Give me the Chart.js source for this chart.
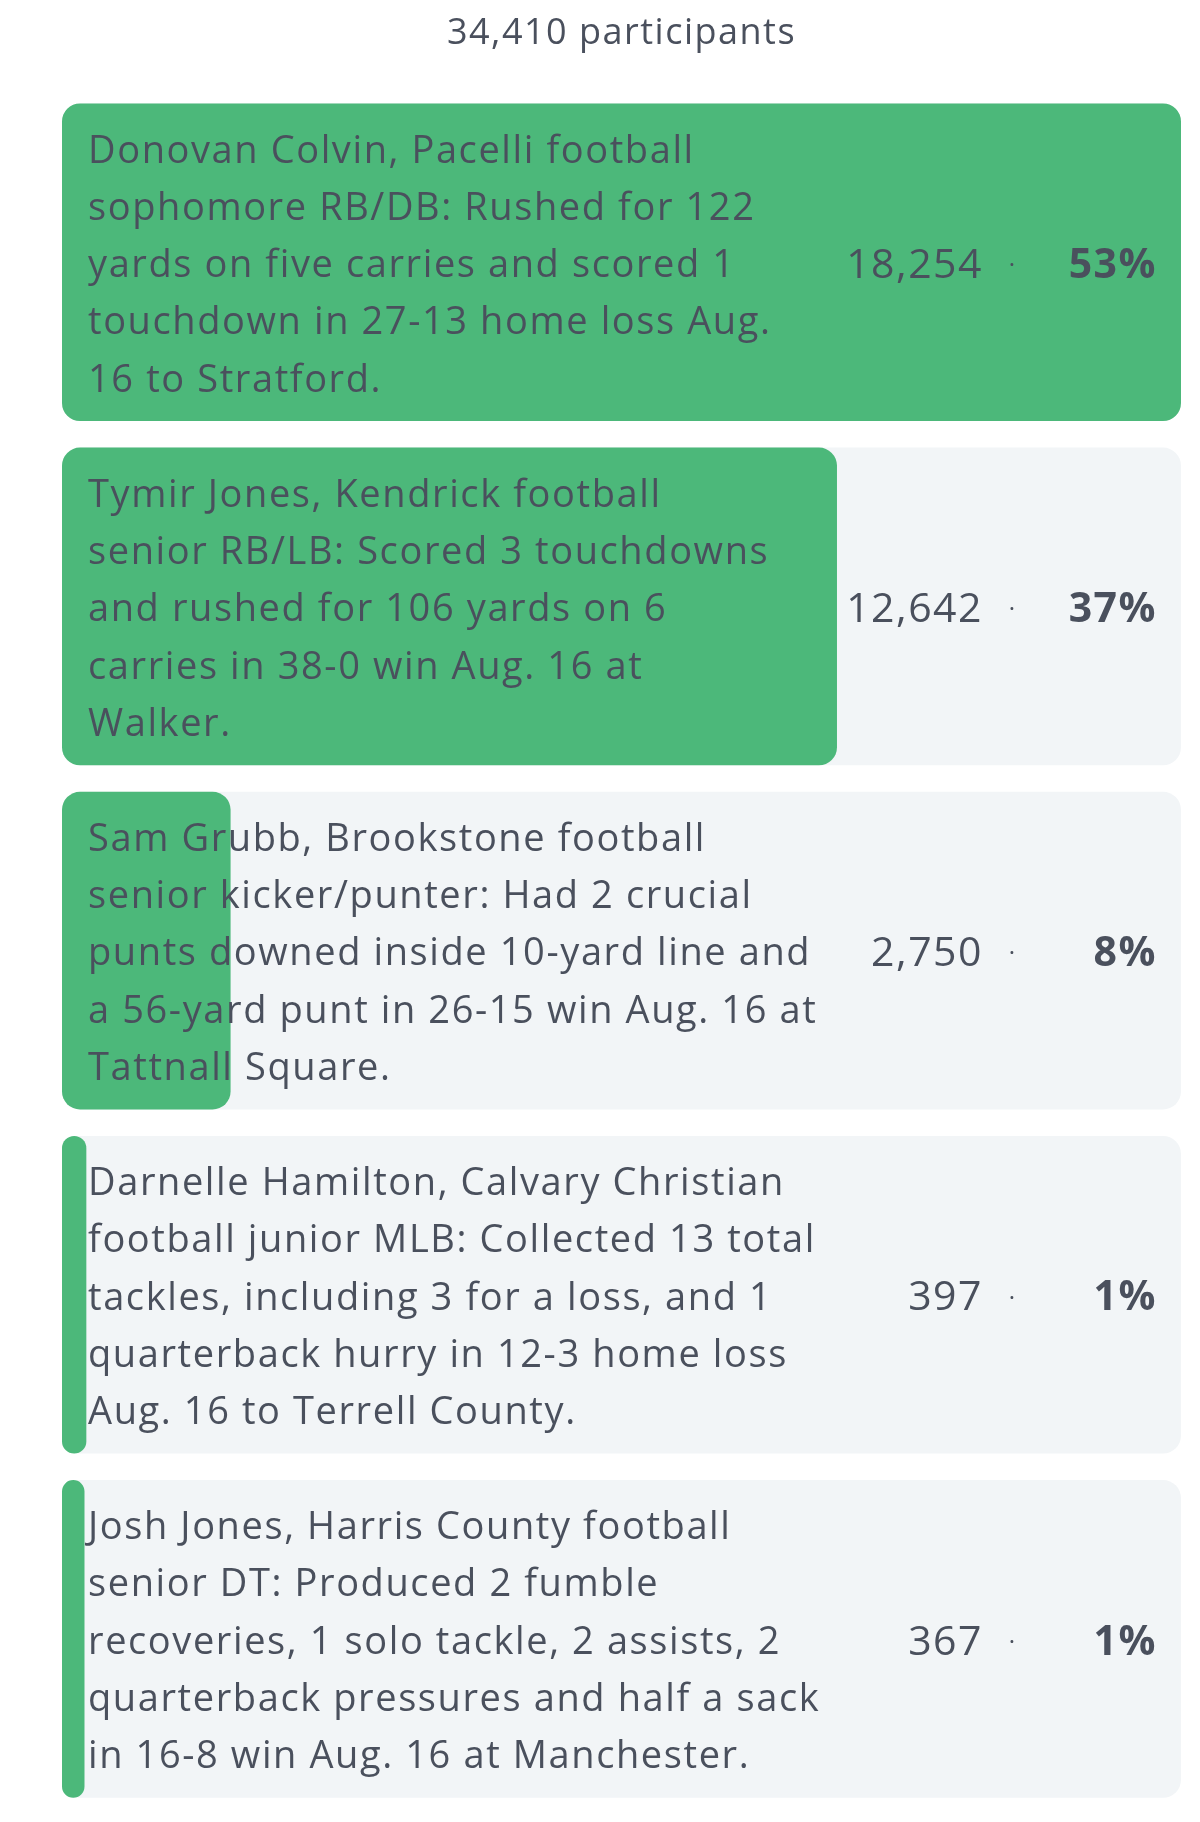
<!DOCTYPE html>
<html>
<head>
<meta charset="utf-8">
<script src="https://cdn.jsdelivr.net/npm/chart.js@4/dist/chart.umd.min.js"></script>
<style>
  html, body { margin: 0; padding: 0; background: #fff; }
  #wrap { width: 1200px; height: 1822px; }
</style>
</head>
<body>
<div id="wrap"><canvas id="poll"></canvas></div>
<script>
// poll options, one array of lines per bar
const options = [
  ['Donovan Colvin, Pacelli football', 'sophomore RB/DB: Rushed for 122', 'yards on five carries and scored 1', 'touchdown in 27-13 home loss Aug.', '16 to Stratford.'],
  ['Tymir Jones, Kendrick football', 'senior RB/LB: Scored 3 touchdowns', 'and rushed for 106 yards on 6', 'carries in 38-0 win Aug. 16 at', 'Walker.'],
  ['Sam Grubb, Brookstone football', 'senior kicker/punter: Had 2 crucial', 'punts downed inside 10-yard line and', 'a 56-yard punt in 26-15 win Aug. 16 at', 'Tattnall Square.'],
  ['Darnelle Hamilton, Calvary Christian', 'football junior MLB: Collected 13 total', 'tackles, including 3 for a loss, and 1', 'quarterback hurry in 12-3 home loss', 'Aug. 16 to Terrell County.'],
  ['Josh Jones, Harris County football', 'senior DT: Produced 2 fumble', 'recoveries, 1 solo tackle, 2 assists, 2', 'quarterback pressures and half a sack', 'in 16-8 win Aug. 16 at Manchester.']
];
const votes = [18254, 12642, 2750, 397, 367];

const total = votes.reduce((a, b) => a + b, 0);
const maxVote = Math.max(...votes);
const GREEN = '#4cb87a';
const TRACK = '#f2f5f7';
const INK = '#4a505d';
const FONT = '"Open Sans", Lato, sans-serif';

// the reference face is wide, so open the tracking a little
const tracking = {
  id: 'tracking',
  beforeDraw(chart) { chart.ctx.letterSpacing = '1.5px'; }
};

// labels, counts and percentages drawn on top of the bars
const pollText = {
  id: 'pollText',
  afterDatasetsDraw(chart) {
    const { ctx, chartArea, scales } = chart;
    const lineH = 57.3;
    ctx.save();
    ctx.fillStyle = INK;
    ctx.textBaseline = 'middle';
    options.forEach((lines, i) => {
      const cy = scales.y.getPixelForValue(i) + 4;
      ctx.letterSpacing = '1.6px';
      ctx.font = '38px ' + FONT;
      ctx.textAlign = 'left';
      const y0 = cy - (lines.length - 1) * lineH / 2;
      lines.forEach((ln, k) => ctx.fillText(ln, chartArea.left + 26, y0 + k * lineH));

      ctx.letterSpacing = '1.5px';
      ctx.font = '41px ' + FONT;
      ctx.textAlign = 'right';
      ctx.fillText(votes[i].toLocaleString('en-US'), chartArea.right - 198, cy);
      ctx.letterSpacing = '0px';
      ctx.textAlign = 'center';
      ctx.font = '24px ' + FONT;
      ctx.fillText('·', chartArea.right - 169, cy);
      ctx.letterSpacing = '1.5px';
      ctx.textAlign = 'right';
      ctx.font = 'bold 41px ' + FONT;
      ctx.fillText(Math.round(votes[i] / total * 100) + '%', chartArea.right - 24, cy);
    });
    ctx.restore();
  }
};

new Chart(document.getElementById('poll'), {
  type: 'bar',
  data: {
    labels: options,
    datasets: [
      {
        data: votes,
        backgroundColor: GREEN,
        borderRadius: 18,
        borderSkipped: false,
        minBarLength: 22,
        grouped: false,
        order: 0,
        barPercentage: 0.923,
        categoryPercentage: 1
      },
      {
        data: votes.map(() => maxVote),
        backgroundColor: TRACK,
        borderRadius: 18,
        borderSkipped: false,
        grouped: false,
        order: 1,
        barPercentage: 0.923,
        categoryPercentage: 1
      }
    ]
  },
  options: {
    indexAxis: 'y',
    responsive: true,
    maintainAspectRatio: false,
    animation: false,
    layout: { padding: { left: 62, right: 19, top: 0, bottom: 11 } },
    plugins: {
      legend: { display: false },
      tooltip: { enabled: false },
      title: {
        display: true,
        text: total.toLocaleString('en-US') + ' participants',
        color: INK,
        font: { family: FONT, size: 36, weight: 'normal' },
        padding: { top: 12, bottom: 35 }
      }
    },
    scales: {
      x: { display: false, min: 0, max: maxVote },
      y: { display: false }
    }
  },
  plugins: [tracking, pollText]
});
</script>
</body>
</html>
